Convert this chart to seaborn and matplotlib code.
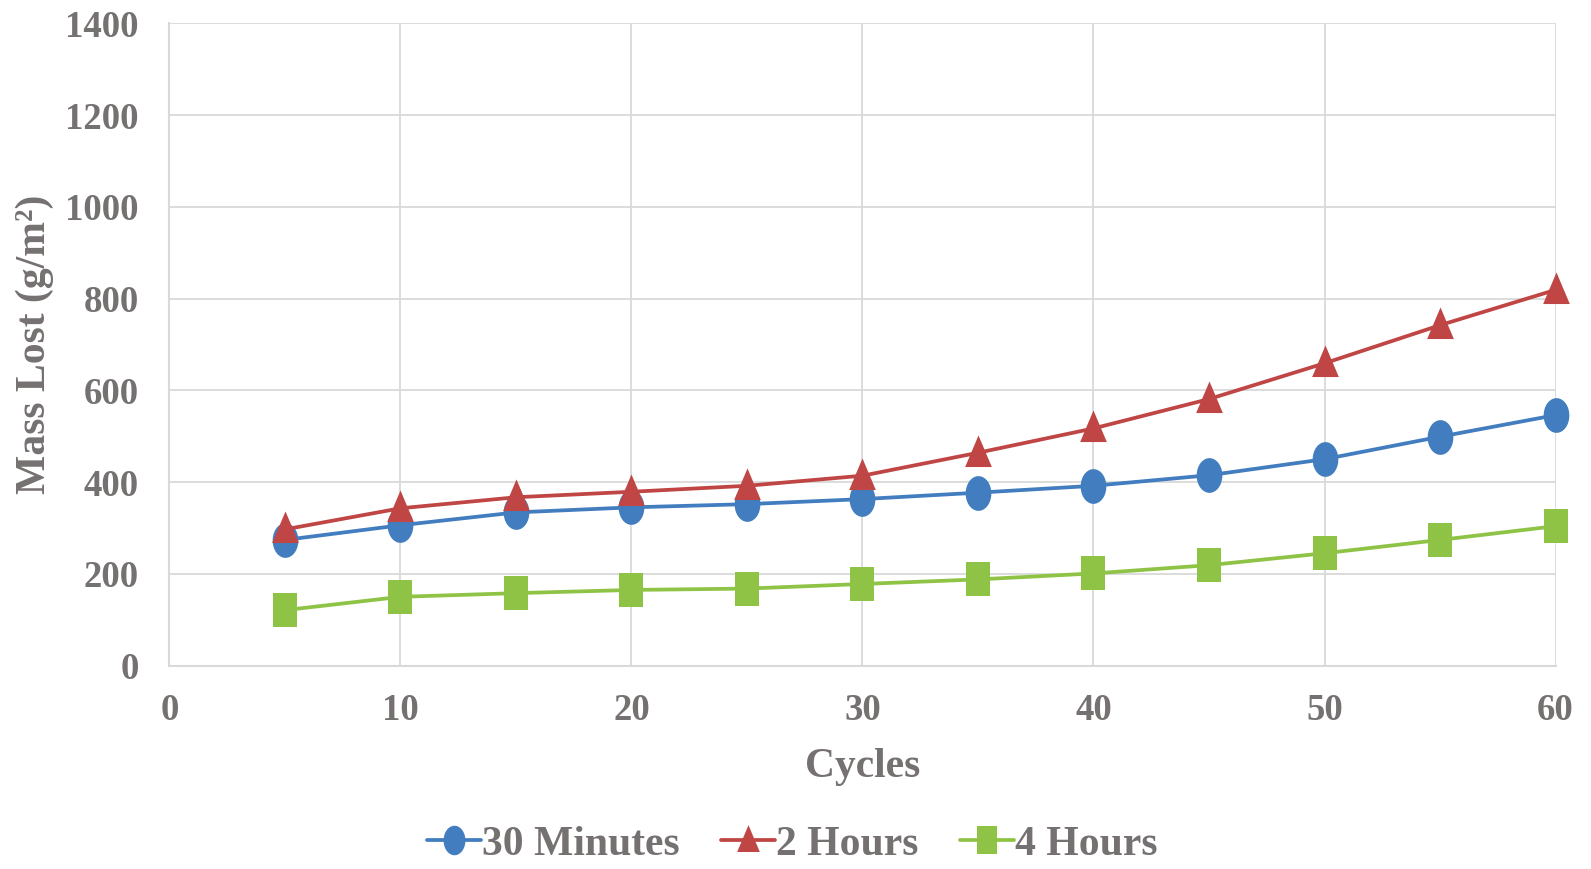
import numpy as np
import pandas as pd
import matplotlib
matplotlib.use("Agg")
import matplotlib.pyplot as plt
from matplotlib.path import Path
import seaborn as sns

# Exposure cycles and mass lost per series (g/m²)
cycles = [5, 10, 15, 20, 25, 30, 35, 40, 45, 50, 55, 60]
mass_30min = [274, 306, 334, 345, 352, 363, 377, 392, 415, 450, 499, 546]
mass_2h = [297, 343, 367, 379, 392, 414, 464, 517, 581, 659, 742, 819]
mass_4h = [121, 150, 158, 165, 168, 178, 188, 201, 219, 245, 274, 304]

series_names = ["30 Minutes", "2 Hours", "4 Hours"]
x_ticks = [0, 10, 20, 30, 40, 50, 60]
y_ticks = [0, 200, 400, 600, 800, 1000, 1200, 1400]

df = pd.DataFrame({
    "Cycles": cycles * 3,
    "Mass": mass_30min + mass_2h + mass_4h,
    "Series": [series_names[0]] * len(cycles)
              + [series_names[1]] * len(cycles)
              + [series_names[2]] * len(cycles),
})

sns.set_theme(style="white")
plt.rcParams["font.family"] = ["Liberation Serif", "DejaVu Serif"]
plt.rcParams["font.weight"] = "bold"

# Tall marker shapes (narrower than they are high)
sx = 0.74
t = np.linspace(0, 2 * np.pi, 60)
ellipse = Path(np.column_stack([sx * np.cos(t), np.sin(t)]), closed=True)
triangle = Path([(0, 1), (-sx, -0.75), (sx, -0.75), (0, 1)], closed=True)
square = Path([(-sx, -1), (sx, -1), (sx, 1), (-sx, 1), (-sx, -1)], closed=True)

colors = {"30 Minutes": "#417DBF", "2 Hours": "#BF4644", "4 Hours": "#8FC346"}
markers = {"30 Minutes": ellipse, "2 Hours": triangle, "4 Hours": square}
msizes = {"30 Minutes": 25, "2 Hours": 26, "4 Hours": 24}

fig = plt.figure(figsize=(15.91, 8.69), dpi=100)
ax = fig.add_axes([0.1065, 0.234, 0.9777 - 0.1065, 0.9732 - 0.234])

for name in series_names:
    sub = df[df["Series"] == name]
    sns.lineplot(data=sub, x="Cycles", y="Mass", ax=ax, color=colors[name],
                 marker=markers[name], markersize=msizes[name],
                 markeredgewidth=0, linewidth=2.7, label=name, clip_on=False)

grey_txt = "#767171"
grid_c = "#D9D9D9"
ax.set_xlim(0, 60)
ax.set_ylim(0, 1400)
ax.set_xticks(x_ticks)
ax.set_yticks(y_ticks)
ax.grid(True, color=grid_c, linewidth=1.3)
ax.set_axisbelow(True)
for side in ["top", "right"]:
    ax.spines[side].set_visible(False)
for side in ["left", "bottom"]:
    ax.spines[side].set_color(grid_c)
    ax.spines[side].set_linewidth(1.5)

ax.tick_params(axis="both", length=0, labelsize=26.5, labelcolor=grey_txt)
ax.tick_params(axis="y", pad=22)
ax.tick_params(axis="x", pad=20)
for lab in ax.get_xticklabels() + ax.get_yticklabels():
    lab.set_fontweight("bold")

ax.set_xlabel("Cycles", fontsize=30, fontweight="bold", color=grey_txt, labelpad=14)
ax.set_ylabel("Mass Lost (g/m²)", fontsize=30, fontweight="bold", color=grey_txt, labelpad=8)

handles, labels = ax.get_legend_handles_labels()
ax.get_legend().remove()
leg = fig.legend(handles, labels, loc="center", bbox_to_anchor=(0.498, 0.028), ncol=3,
                 frameon=False, fontsize=30, handlelength=1.3, handletextpad=0.02,
                 columnspacing=1.0, markerscale=0.85, borderpad=0.1)
for txt in leg.get_texts():
    txt.set_color(grey_txt)
    txt.set_fontweight("bold")

fig.savefig("out.png", dpi=100, facecolor="white")
